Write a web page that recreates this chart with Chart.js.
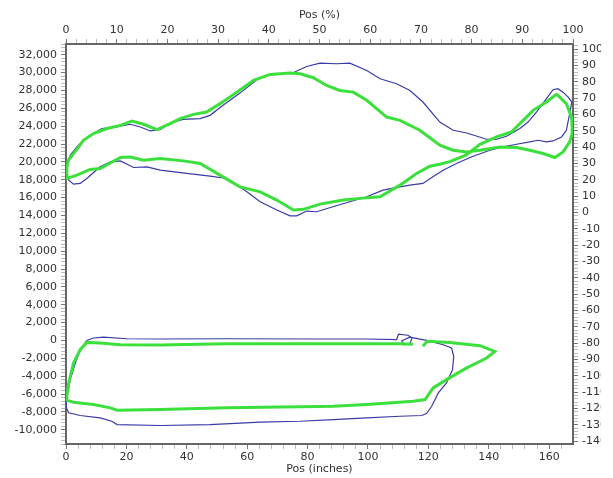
<!DOCTYPE html>
<html lang="en">
<head>
  <meta charset="UTF-8">
  <title>Pos vs Load</title>
  <script src="https://cdn.jsdelivr.net/npm/chart.js"></script>
  <style>
    body { margin: 0; background: #fff; width: 613px; height: 478px; overflow: hidden; }
    canvas { display: block; }
  </style>
</head>
<body>
  <canvas id="grafica" width="601" height="478"></canvas>

  <script>
    // upper loop (blue trace)
    const blueTopX = [0.1,0.4,1.4,3.6,5.7,8.0,11.9,16.3,21.3,24.6,27.9,31.2,34.5,38.8,44.4,47.7,52.0,57.6,63.2,66.5,70.9,75.2,79.7,84.1,89.6,94.0,99.6,104.0,109.5,113.9,118.2,123.8,128.2,132.7,139.3,142.6,145.9,150.3,153.0,155.8,159.1,161.3,162.9,164.6,166.3,167.5,166.8,165.7,164.1,161.3,159.1,156.3,153.6,149.2,144.8,140.4,134.8,129.3,124.9,121.5,118.2,113.9,110.6,105.0,99.6,94.0,88.4,83.0,79.7,76.4,74.2,69.8,64.3,59.9,53.3,47.7,40.0,31.2,26.8,22.4,18.0,14.7,11.3,6.9,4.7,2.5,0.9,0.1];
    const blueTopY = [19070,19850,20740,21670,22420,22980,23730,23900,24210,23900,23460,23610,24350,24760,24840,25210,26330,27700,29200,29680,29870,29980,30680,31050,30990,31050,30240,29310,28750,28000,26700,24460,23540,23230,22530,22530,22870,23730,24460,25580,27080,28080,28190,27810,27260,26700,25400,23540,22790,22340,22230,22420,22230,21970,21670,21300,20630,19820,19070,18320,17580,17390,17200,16830,16090,15530,14970,14410,14490,13960,13960,14600,15530,16640,18140,18400,18700,19070,19440,19370,20110,19990,19440,18140,17580,17500,17950,19070];

    // upper loop (green trace)
    const greenTopX = [0.3,0.8,2.5,5.8,9.1,13.6,18.0,21.8,25.7,30.1,34.5,37.8,42.2,46.6,51.0,56.6,62.1,67.6,74.2,77.5,81.9,86.3,90.7,95.1,99.6,106.2,110.6,117.2,121.6,123.8,128.2,132.6,137.1,143.7,149.2,153.6,158.0,161.9,164.6,166.8,167.6,167.6,167.4,165.7,162.9,162.4,159.1,154.7,151.4,147.5,142.6,137.1,132.4,127.1,123.8,120.5,116.1,110.6,104.0,97.4,91.8,84.1,78.6,75.3,69.8,64.3,57.6,51.0,44.4,38.9,31.2,25.7,21.3,18.0,11.3,8.0,3.6,0.3,0.3];
    const greenTopY = [19440,20180,20930,22420,23170,23730,24090,24570,24210,23610,24280,24840,25320,25580,26520,27810,29120,29790,29940,29870,29420,28560,28000,27810,26890,25020,24650,23540,22420,21860,21300,21110,21300,21670,21600,21300,20930,20490,21110,22230,23170,24090,25020,26520,27450,27560,26700,25770,24650,23350,22790,21970,20740,20020,19740,19510,18700,17390,16090,15910,15720,15270,14680,14600,15720,16640,17200,18510,19820,20110,20370,20180,20550,20490,19260,19150,18510,18140,19440];

    // lower loop (blue trace)
    const blueBotX = [0.1,1.4,3.1,4.7,6.9,9.1,12.4,20.2,31.2,53.3,84.1,99.6,109.5,110.1,113.2,114.6,113.9,111.9,111.2,113.9,119.4,124.9,127.7,128.4,128.0,126.0,123.3,121.1,119.4,117.8,110.6,99.6,88.5,77.5,64.3,47.7,31.2,16.9,15.2,11.3,4.7,0.9,0.1,0.1];
    const blueBotY = [-6620,-4390,-2520,-1040,0,270,380,190,160,190,160,160,80,690,580,300,-370,-480,-30,360,0,-480,-850,-1790,-3270,-4760,-5880,-7370,-8190,-8410,-8490,-8670,-8860,-9050,-9160,-9420,-9530,-9420,-9050,-8670,-8410,-8110,-7550,-6620];

    // lower loop (green trace)
    const greenBotX = [118.2,119.6,127.1,137.1,142.0,139.3,132.7,126.0,121.6,118.9,115.0,99.6,88.5,77.5,53.3,31.2,16.9,14.7,9.1,2.5,0.1,0.9,2.5,4.7,6.9,11.3,18.0,31.2,53.3,84.1,110.6,114.9];
    const greenBotY = [-650,-90,-220,-590,-1230,-1970,-3080,-4390,-5320,-6620,-6810,-7180,-7370,-7440,-7550,-7740,-7820,-7550,-7180,-6930,-6680,-4760,-2520,-1040,-220,-290,-480,-510,-370,-370,-370,-420];

    const pares = (xs, ys) => xs.map((x, i) => ({ x: x, y: ys[i] }));

    const fuente = { family: 'DejaVu Sans', size: 11 };
    const gris = '#333';

    // ticks every minor step, label only on the major ones
    // (min/max must be whole multiples of the step or chart.js spreads the ticks evenly)
    function eje(pos, min, max, paso, mayor, tamano, titulo, formato) {
      const horizontal = pos === 'top' || pos === 'bottom';
      return {
        type: 'linear',
        position: pos,
        min: min,
        max: max,
        afterFit: s => { if (horizontal) s.height = tamano; else s.width = tamano; },
        border: { display: true, color: '#666', width: 2 },
        grid: {
          drawOnChartArea: false,
          tickLength: 5,
          tickColor: c => Math.abs(c.tick.value % mayor) < 1e-6 ? '#777' : '#bbb'
        },
        ticks: {
          stepSize: paso,
          includeBounds: false,
          autoSkip: false,
          maxRotation: 0,
          minRotation: 0,
          padding: horizontal ? 2 : 4,
          color: gris,
          font: fuente,
          callback: v => Math.abs(v % mayor) < 1e-6 ? formato(v) : ''
        },
        title: {
          display: !!titulo,
          text: titulo,
          color: gris,
          font: fuente,
          padding: pos === 'top' ? { top: 9, bottom: 0 } : { top: 0, bottom: 2 }
        }
      };
    }

    const simple = v => String(Math.round(v));
    const miles = v => Math.round(v).toLocaleString('en-US');

    new Chart(document.getElementById('grafica'), {
      type: 'scatter',
      data: {
        datasets: [
          { data: pares(greenTopX, greenTopY), borderColor: '#3ce03c', borderWidth: 3 },
          { data: pares(greenBotX, greenBotY), borderColor: '#3ce03c', borderWidth: 3 },
          { data: pares(blueTopX, blueTopY), borderColor: '#3a3aa8', borderWidth: 1.2 },
          { data: pares(blueBotX, blueBotY), borderColor: '#3a3aa8', borderWidth: 1.2 }
        ].map(d => Object.assign(d, { showLine: true, pointRadius: 0, tension: 0, fill: false, xAxisID: 'x', yAxisID: 'y' }))
      },
      options: {
        responsive: false,
        animation: false,
        layout: { padding: 0 },
        plugins: { legend: { display: false }, tooltip: { enabled: false } },
        scales: {
          x: eje('bottom', 0, 167.9, 4, 20, 34, 'Pos (inches)', simple),
          x2: eje('top', 0, 100, 2, 10, 44, 'Pos (%)', simple),
          y: eje('left', -11600, 33200, 400, 2000, 66, '', miles),
          y2: eje('right', -141.7, 103.2, 2, 10, 28, '', simple)
        }
      }
    });
  </script>
</body>
</html>
